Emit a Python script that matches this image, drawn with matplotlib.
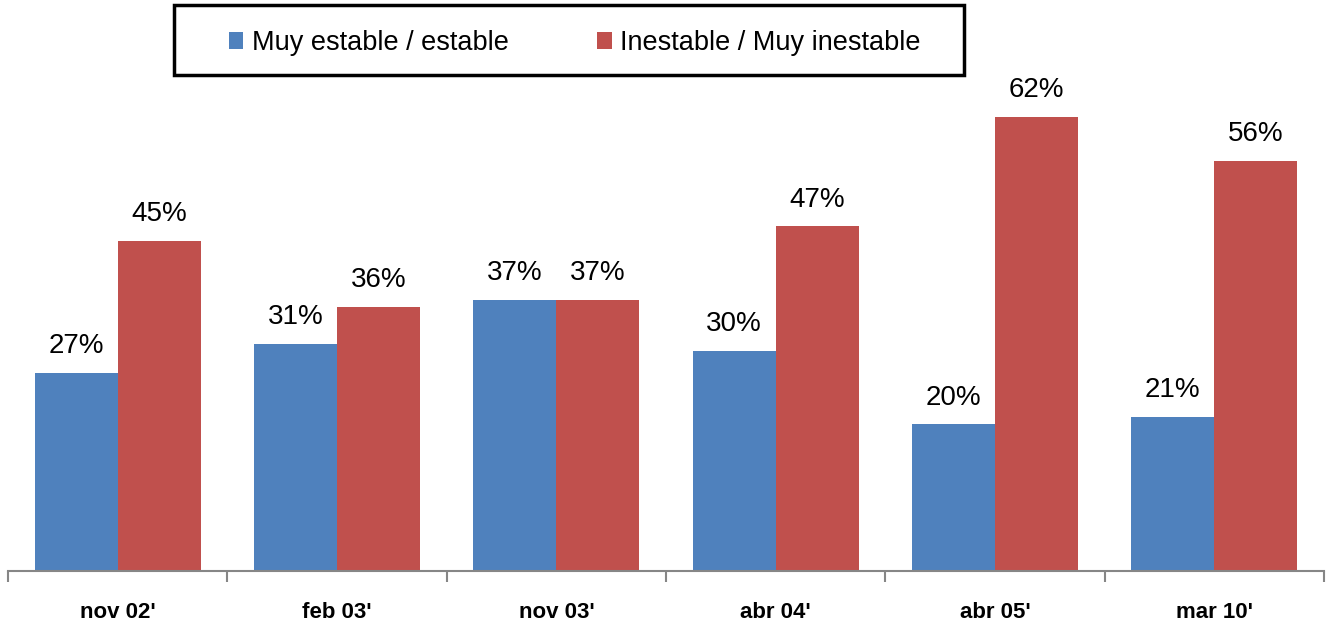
import matplotlib
matplotlib.use("Agg")
import matplotlib.pyplot as plt
from matplotlib.patches import Rectangle
import numpy as np

categories = ["nov 02'", "feb 03'", "nov 03'", "abr 04'", "abr 05'", "mar 10'"]
estable = [27, 31, 37, 30, 20, 21]
inestable = [45, 36, 37, 47, 62, 56]
series_names = ["Muy estable / estable", "Inestable / Muy inestable"]
colors = ["#4F81BD", "#C0504D"]

plt.rcParams['font.family'] = ['Liberation Sans', 'DejaVu Sans']

W, H = 1328, 621
fig = plt.figure(figsize=(W / 100, H / 100), dpi=100)
ax = fig.add_axes([8 / W, (H - 571) / H, (1324 - 8) / W, 571 / H])

x = np.arange(len(categories))
bw = 0.378
b1 = ax.bar(x - bw / 2, estable, bw, color=colors[0], label=series_names[0], linewidth=0)
b2 = ax.bar(x + bw / 2, inestable, bw, color=colors[1], label=series_names[1], linewidth=0)

for bars, vals in ((b1, estable), (b2, inestable)):
    for rect, v in zip(bars, vals):
        ax.annotate(f"{v}%", (rect.get_x() + rect.get_width() / 2, v),
                    xytext=(0, 10), textcoords="offset points",
                    ha="center", va="bottom", fontsize=20)

ax.set_xlim(-0.5, len(categories) - 0.5)
ax.set_ylim(0, 77.9)
ax.set_xticks(x)
ax.set_xticklabels(categories, fontsize=16, fontweight="bold")
ax.set_xticks(np.arange(-0.5, len(categories)), minor=True)
ax.tick_params(axis="x", which="major", length=0, pad=22)
ax.tick_params(axis="x", which="minor", length=8, width=1.5, color="#868686", direction="out")
ax.set_yticks([])
for s in ("top", "right", "left"):
    ax.spines[s].set_visible(False)
ax.spines["bottom"].set_color("#868686")
ax.spines["bottom"].set_linewidth(1.5)

# legend box
x0 = (174 - 8) / 1316
x1 = (964 - 8) / 1316
y1 = 1 - 5 / 571
y0 = 1 - 75 / 571
ax.add_patch(Rectangle((x0, y0), x1 - x0, y1 - y0, transform=ax.transAxes,
                       fill=False, edgecolor="black", linewidth=2.5, clip_on=False, zorder=5))
leg = ax.legend(loc="center", bbox_to_anchor=((x0 + x1) / 2 + 5.5 / 1316, (y0 + y1) / 2 - 3 / 571),
                ncol=2, frameon=False, fontsize=19.5, handlelength=0.55, handleheight=0.55,
                handletextpad=0.3, columnspacing=3.27, borderpad=0)

fig.savefig("out.png", dpi=100)
